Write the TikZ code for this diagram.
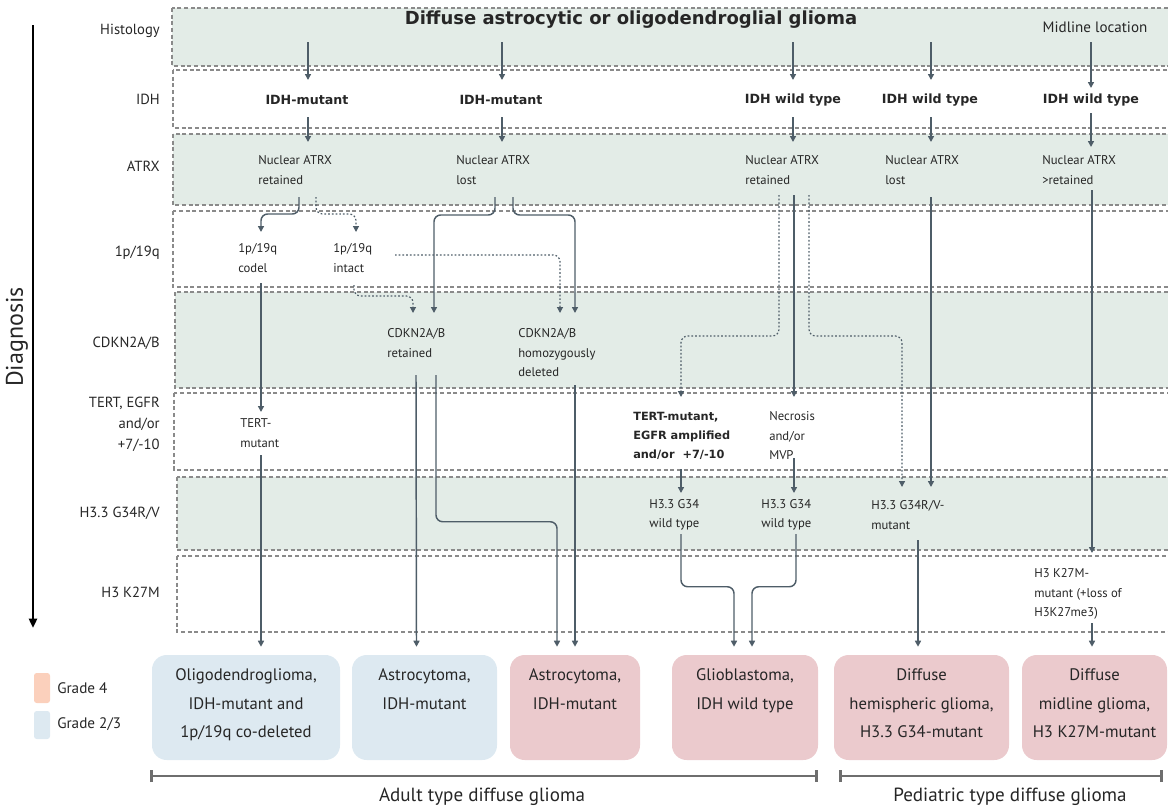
\documentclass[tikz,border=0pt]{standalone}
\usepackage{fontspec}
\setmainfont{PT Sans}
\newfontfamily\boldface[BoldFont={DejaVu Sans Bold}]{DejaVu Sans}
\usetikzlibrary{arrows.meta,calc}
\definecolor{rowgreen}{HTML}{E3ECE7}
\definecolor{rowline}{HTML}{8A8A8A}
\definecolor{arrc}{HTML}{4E5D68}
\definecolor{boxblue}{HTML}{DDE9F1}
\definecolor{boxpink}{HTML}{EBCACD}
\definecolor{peach}{HTML}{FBD0BC}
\definecolor{brk}{HTML}{6E6E6E}
\definecolor{textc}{HTML}{262626}
\begin{document}
\begin{tikzpicture}[x=0.75pt,y=-0.75pt,
  rowframe/.style={draw=rowline,line width=0.8pt,dash pattern=on 3pt off 2pt},
  rowlbl/.style={inner sep=0pt,anchor=east,align=right,text=textc,font=\fontsize{11}{15.75}\selectfont},
  txt/.style={inner sep=0pt,anchor=west,align=left,text=textc,font=\fontsize{9.5}{14.6}\selectfont},
  btxt/.style={inner sep=0pt,align=center,text=textc,font=\boldface\bfseries\fontsize{9.5}{14.6}\selectfont},
  arr/.style={draw=arrc,line width=1.1pt,-{Triangle[length=4.5pt,width=4.5pt]},rounded corners=5pt},
  darr/.style={arr,line width=0.9pt,dash pattern=on 1.3pt off 1.5pt},
  dx/.style={rounded corners=11pt,inner sep=0pt,align=center,text=textc,font=\fontsize{12.5}{21.5}\selectfont,minimum height=78.75pt},
  swatch/.style={rounded corners=2pt,inner sep=0pt,minimum width=12pt},
  bracket/.style={draw=brk,line width=2pt,{Bar[width=9pt]}-{Bar[width=9pt]}}
]
\useasboundingbox (0,0) rectangle (1168,810);

% rows
\draw[rowframe,fill=rowgreen] (172,8) rectangle (1172,66);
\draw[rowframe] (173,70) rectangle (1172,128);
\draw[rowframe,fill=rowgreen] (173,134) rectangle (1172,205);
\draw[rowframe] (173,211) rectangle (1172,287);
\draw[rowframe,fill=rowgreen] (175,292) rectangle (1172,388);
\draw[rowframe] (174,393) rectangle (1172,470);
\draw[rowframe,fill=rowgreen] (177,477) rectangle (1172,550);
\draw[rowframe] (177,556) rectangle (1172,632);

% diagnosis axis
\coordinate (dtop) at (33,25);
\coordinate (dbot) at (33,628);
\draw[line width=2pt,-{Triangle[length=7pt,width=6pt]}] (dtop) -- (dbot);
\node[rotate=90,inner sep=0pt,text=textc,font=\fontsize{18}{20}\selectfont] (diag) at (17,337) {Diagnosis};

% row labels
\node[rowlbl] (lhist) at (160,31) {Histology};
\node[rowlbl] (lidh) at (160,99) {IDH};
\node[rowlbl] (latrx) at (160,166) {ATRX};
\node[rowlbl] (l1p) at (160,253) {1p/19q};
\node[rowlbl] (lcdkn) at (160,343) {CDKN2A/B};
\node[rowlbl] (ltert) at (160,424) {TERT, EGFR\\and/or\\+7/-10};
\node[rowlbl] (lg34) at (160,513) {H3.3 G34R/V};
\node[rowlbl] (lk27) at (160,592) {H3 K27M};

% histology
\node[inner sep=0pt,text=textc,font=\boldface\bfseries\fontsize{13.5}{16}\selectfont] (title) at (631,20) {Diffuse astrocytic or oligodendroglial glioma};
\node[inner sep=0pt,text=textc,font=\fontsize{11.3}{14}\selectfont] (mid) at (1095,27) {Midline location};

% IDH
\node[btxt] (idh1) at (307,100) {IDH-mutant};
\node[btxt] (idh2) at (501,100) {IDH-mutant};
\node[btxt] (idh3) at (793,100) {IDH wild type};
\node[btxt] (idh4) at (930,100) {IDH wild type};
\node[btxt] (idh5) at (1091,100) {IDH wild type};

% ATRX
\node[txt] (atrx1) at (258,170) {Nuclear ATRX\\retained};
\node[txt] (atrx2) at (456,170) {Nuclear ATRX\\lost};
\node[txt] (atrx3) at (745,170) {Nuclear ATRX\\retained};
\node[txt] (atrx4) at (885,170) {Nuclear ATRX\\lost};
\node[txt] (atrx5) at (1042,170) {Nuclear ATRX\\>retained};

% 1p/19q
\node[txt] (codel) at (238,258) {1p/19q\\codel};
\node[txt] (intact) at (333,258) {1p/19q\\intact};

% CDKN2A/B
\node[txt] (cret) at (387,343) {CDKN2A/B\\retained};
\node[txt] (cdel) at (518,353) {CDKN2A/B\\homozygously\\deleted};

% TERT
\node[txt] (tertm) at (240,433) {TERT-\\mutant};
\node[txt,font=\boldface\bfseries\fontsize{8.5}{14.4}\selectfont] (tegfr) at (633,436) {TERT-mutant,\\EGFR amplified\\and/or\ \ +7/-10};
\node[txt] (necr) at (769,436) {Necrosis\\and/or\\MVP};

% H3.3
\node[txt] (wt1) at (649,515) {H3.3 G34\\wild type};
\node[txt] (wt2) at (761,515) {H3.3 G34\\wild type};
\node[txt] (g34m) at (871,515) {H3.3 G34R/V-\\mutant};

% H3 K27M
\node[txt] (k27m) at (1034,594) {H3 K27M-\\mutant (+loss of\\H3K27me3)};

% diagnoses
\node[dx,fill=boxblue,minimum width=141pt] (box1) at (246,707.5) {Oligodendroglioma,\\IDH-mutant and\\1p/19q co-deleted\strut};
\node[dx,fill=boxblue,minimum width=108.75pt] (box2) at (424.5,707.5) {Astrocytoma,\\IDH-mutant\\\strut};
\node[dx,fill=boxpink,minimum width=97.5pt] (box3) at (575,707.5) {Astrocytoma,\\IDH-mutant\\\strut};
\node[dx,fill=boxpink,minimum width=109.5pt] (box4) at (745,707.5) {Glioblastoma,\\IDH wild type\\\strut};
\node[dx,fill=boxpink,minimum width=131.25pt] (box5) at (921.5,707.5) {Diffuse\\hemispheric glioma,\\H3.3 G34-mutant\strut};
\node[dx,fill=boxpink,minimum width=108.75pt] (box6) at (1094.5,707.5) {Diffuse\\midline glioma,\\H3 K27M-mutant\strut};

% legend
\node[swatch,fill=peach,minimum height=22.5pt] (sw4) at (42,688) {};
\node[swatch,fill=boxblue,minimum height=21pt] (sw23) at (42,725) {};
\node[txt,font=\fontsize{11.4}{13}\selectfont] (g4) at (57,688) {Grade 4};
\node[txt,font=\fontsize{11.4}{13}\selectfont] (g23) at (57,724) {Grade 2/3};

% brackets
\coordinate (ad1) at (150,776);
\coordinate (ad2) at (818,776);
\coordinate (pd1) at (839,776);
\coordinate (pd2) at (1163,776);
\draw[bracket] (ad1) -- (ad2);
\draw[bracket] (pd1) -- (pd2);
\node[inner sep=0pt,text=textc,font=\fontsize{14.3}{16}\selectfont] (adult) at (482,797) {Adult type diffuse glioma};
\node[inner sep=0pt,text=textc,font=\fontsize{14.3}{16}\selectfont] (ped) at (1010,797) {Pediatric type diffuse glioma};

% histology -> IDH
\draw[arr] ($(idh1.center |- title.center)+(1,22)$) -- ($(idh1.center)+(1,-20)$);
\draw[arr] ($(idh2.center |- title.center)+(1,22)$) -- ($(idh2.center)+(1,-20)$);
\draw[arr] ($(idh3.center |- title.center)+(0,22)$) -- ($(idh3.center)+(0,-20)$);
\draw[arr] ($(idh4.center |- title.center)+(1,22)$) -- ($(idh4.center)+(1,-20)$);
\draw[arr] ($(mid.center -| idh5.center)+(0,15)$) -- ($(idh5.center)+(0,-12)$);

% IDH -> ATRX
\draw[arr] ($(idh1.center)+(1,17)$) -- ($(idh1.center |- atrx1.center)+(1,-28)$);
\draw[arr] ($(idh2.center)+(1,17)$) -- ($(idh2.center |- atrx2.center)+(1,-28)$);
\draw[arr] ($(idh3.center)+(0,17)$) -- ($(idh3.center |- atrx3.center)+(0,-28)$);
\draw[arr] ($(idh4.center)+(1,17)$) -- ($(idh4.center |- atrx4.center)+(1,-28)$);
\draw[arr] ($(idh5.center)+(0,13)$) -- ($(idh5.center |- atrx5.center)+(0,-23)$);

% ATRX col1 -> 1p/19q
\draw[arr] ($(atrx1.west)+(41,27)$) |- ($(codel.west)+(23,-44)$) -- ($(codel.west)+(23,-26)$);
\draw[darr] ($(atrx1.west)+(58,27)$) |- ($(intact.west)+(23,-44)$) -- ($(intact.west)+(23,-26)$);

% codel -> TERT -> box1
\draw[arr] ($(codel.west)+(23,25)$) -- ($(tertm.west)+(21,-21)$);
\draw[arr] ($(tertm.west)+(21,22)$) -- ($(box1.north)+(15,-8)$);

% intact -> CDKN
\draw[darr] ($(intact.west)+(21,27)$) |- ($(cret.west)+(26,-47)$) -- ($(cret.west)+(26,-30)$);
\draw[darr] ($(intact.west)+(62,-3)$) -| ($(cdel.west)+(42,-40)$);

% ATRX col2 -> CDKN
\draw[arr] ($(atrx2.west)+(39,27)$) |- ($(cret.west)+(47,-128)$) -- ($(cret.west)+(47,-30)$);
\draw[arr] ($(atrx2.west)+(57,27)$) |- ($(cdel.west)+(57,-138)$) -- ($(cdel.west)+(57,-40)$);

% CDKN -> boxes
\draw[arr] ($(cret.west)+(29,32)$) -- ($(box2.north)+(-8,-8)$);
\draw[arr] ($(cret.west)+(49,32)$) |- ($(box3.north)+(-18,-133)$) -- ($(box3.north)+(-18,-8)$);
\draw[arr] ($(cdel.west)+(57,32)$) -- ($(box3.north)+(0,-8)$);

% ATRX col3
\draw[darr] ($(atrx3.west)+(34,25)$) |- ($(tegfr.west)+(48,-100)$) -- ($(tegfr.west)+(48,-39)$);
\draw[arr] ($(atrx3.west)+(49,25)$) -- ($(necr.west)+(25,-39)$);
\draw[darr] ($(atrx3.west)+(64,25)$) |- ($(g34m.west)+(31,-179)$) -- ($(g34m.west)+(31,-28)$);

% ATRX col4
\draw[arr] ($(atrx4.west)+(46,27)$) -- ($(g34m.west)+(60,-28)$);

% TERT/EGFR and necrosis -> H3.3
\draw[arr] ($(tegfr.west)+(48,33)$) -- ($(wt1.west)+(32,-22)$);
\draw[arr] ($(necr.west)+(25,22)$) -- ($(wt2.west)+(33,-22)$);

% H3.3 -> boxes
\draw[arr] ($(wt1.west)+(32,19)$) |- ($(box4.north)+(-11,-68)$) -- ($(box4.north)+(-11,-8)$);
\draw[arr] ($(wt2.west)+(35,19)$) |- ($(box4.north)+(7,-68)$) -- ($(box4.north)+(7,-8)$);
\draw[arr] ($(g34m.west)+(47,25)$) -- ($(box5.north)+(-3.5,-8)$);

% midline column
\draw[arr] ($(atrx5.west)+(50,20)$) -- ($(k27m.west)+(58,-41)$);
\draw[arr] ($(k27m.west)+(58,29)$) -- ($(box6.north)+(-2.5,-8)$);
\end{tikzpicture}
\end{document}
